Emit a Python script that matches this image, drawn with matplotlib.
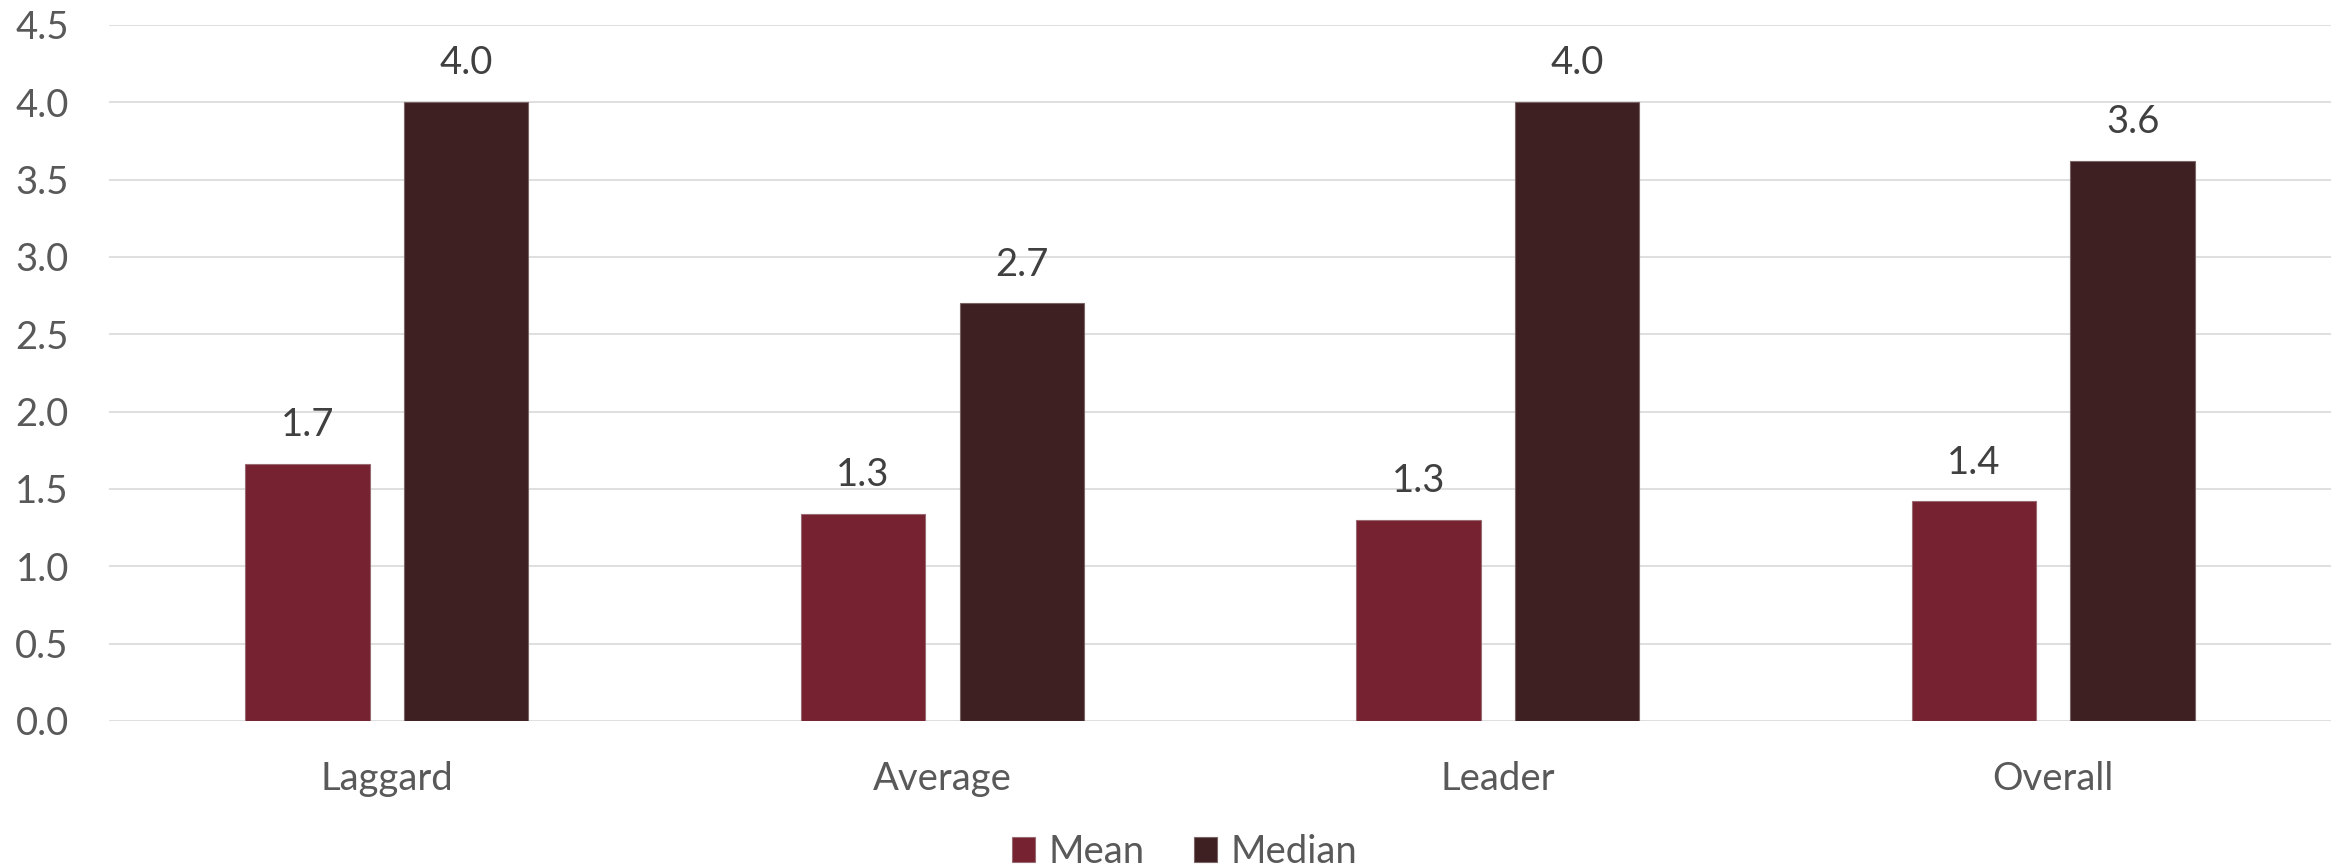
import numpy as np
import matplotlib.pyplot as plt

categories = ['Laggard', 'Average', 'Leader', 'Overall']
mean_values = [1.66, 1.34, 1.30, 1.42]
median_values = [4.0, 2.70, 4.0, 3.62]
series_names = ['Mean', 'Median']
y_ticks = np.arange(0, 4.51, 0.5)

plt.rcParams['font.family'] = ['Lato', 'DejaVu Sans']

fig = plt.figure(figsize=(23.46, 8.68), dpi=100)
ax = fig.add_axes([0.0465, 0.1694, 0.9471, 0.8018])

x = np.arange(len(categories))
width = 0.224
offset = 0.143
colors = ['#762230', '#3E2022']
edges = ['#9A6A72', '#7A6466']

bars = []
for i, (vals, name) in enumerate(zip([mean_values, median_values], series_names)):
    pos = x + (offset if i else -offset)
    b = ax.bar(pos, vals, width, color=colors[i], edgecolor=edges[i],
               linewidth=0.8, label=name, zorder=3)
    bars.append(b)
    for xi, v in zip(pos, vals):
        ax.annotate(f'{v:.1f}', (xi, v), xytext=(0, 15), textcoords='offset points',
                    ha='center', va='bottom', fontsize=27.5, color='#404040')

ax.set_xlim(-0.5, len(categories) - 0.5)
ax.set_ylim(0, 4.5)
ax.set_yticks(y_ticks)
ax.set_yticklabels([f'{t:.1f}' for t in y_ticks])
ax.set_xticks(x)
ax.set_xticklabels(categories)
ax.tick_params(axis='y', length=0, pad=29, labelsize=27.5, labelcolor='#595959')
ax.tick_params(axis='x', length=0, pad=29, labelsize=27.5, labelcolor='#595959')
ax.yaxis.grid(True, color='#D9D9D9', linewidth=1.2, zorder=0)
ax.set_axisbelow(True)
for s in ax.spines.values():
    s.set_visible(False)

fig.legend(handles=bars, labels=series_names, loc='lower center',
           bbox_to_anchor=(0.505, -0.042), ncol=2, frameon=False, fontsize=27.5,
           labelcolor='#595959', handlelength=0.6, handleheight=0.6,
           handletextpad=0.35, columnspacing=1.3)

fig.savefig('out.png', dpi=100)
